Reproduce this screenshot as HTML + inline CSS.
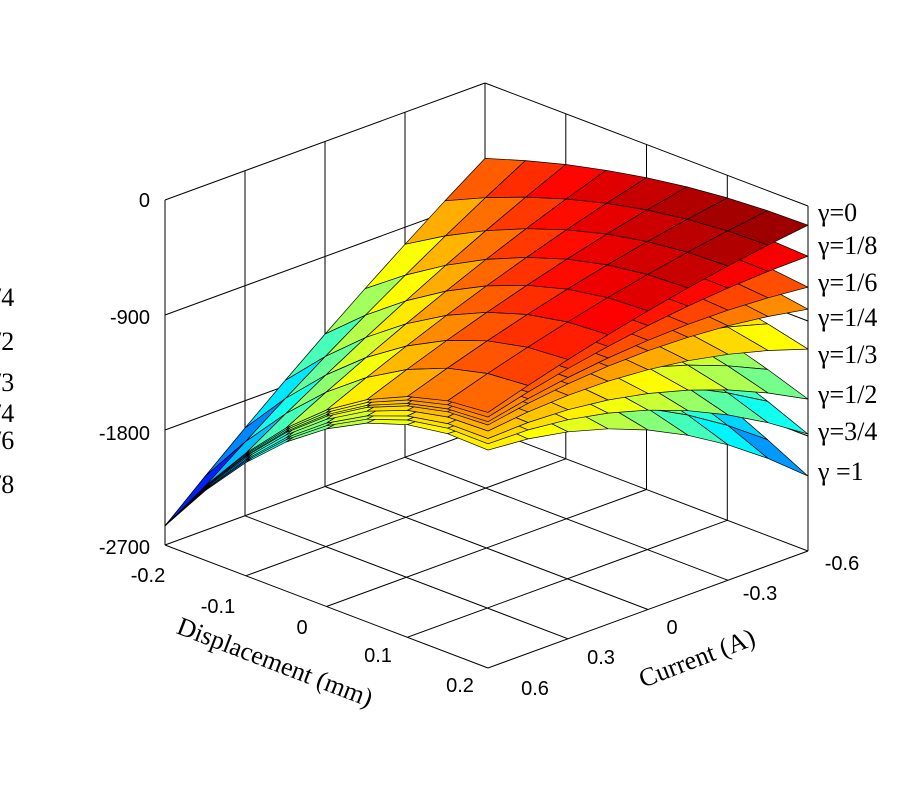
<!DOCTYPE html>
<html><head><meta charset="utf-8"><style>
body{margin:0;background:#fff}
svg{display:block}
.t{font-family:"Liberation Sans",sans-serif;font-size:20px;fill:#000}
.s{font-family:"Liberation Serif","DejaVu Serif",serif;font-size:26px;fill:#000}
</style></head><body>
<svg id="c" width="900" height="800" xmlns="http://www.w3.org/2000/svg">
<g id="g"></g>
<text class="t" x="150" y="207" text-anchor="end">0</text>
<text class="t" x="150" y="324" text-anchor="end">-900</text>
<text class="t" x="150" y="440" text-anchor="end">-1800</text>
<text class="t" x="150" y="554" text-anchor="end">-2700</text>
<text class="t" x="148" y="582" text-anchor="middle">-0.2</text>
<text class="t" x="218" y="613" text-anchor="middle">-0.1</text>
<text class="t" x="302" y="634" text-anchor="middle">0</text>
<text class="t" x="378" y="662" text-anchor="middle">0.1</text>
<text class="t" x="460" y="692" text-anchor="middle">0.2</text>
<text class="t" x="535" y="695" text-anchor="middle">0.6</text>
<text class="t" x="601" y="664" text-anchor="middle">0.3</text>
<text class="t" x="672" y="634" text-anchor="middle">0</text>
<text class="t" x="760" y="600" text-anchor="middle">-0.3</text>
<text class="t" x="842" y="570" text-anchor="middle">-0.6</text>
<text class="s" transform="translate(272,670) rotate(21)" text-anchor="middle">Displacement (mm)</text>
<text class="s" transform="translate(700,666) rotate(-21)" text-anchor="middle">Current (A)</text>
<text class="s" x="818" y="221">γ=0</text>
<text class="s" x="818" y="254">γ=1/8</text>
<text class="s" x="818" y="291">γ=1/6</text>
<text class="s" x="818" y="326">γ=1/4</text>
<text class="s" x="818" y="363">γ=1/3</text>
<text class="s" x="818" y="403">γ=1/2</text>
<text class="s" x="818" y="440">γ=3/4</text>
<text class="s" x="818" y="480">γ =1</text>
<text class="s" x="-6" y="306">/4</text>
<text class="s" x="-6" y="350">/2</text>
<text class="s" x="-6" y="391">/3</text>
<text class="s" x="-6" y="422">/4</text>
<text class="s" x="-6" y="449">/6</text>
<text class="s" x="-6" y="493">/8</text>
</svg>
<script>
(function(){
var L=[165,545],F=[488,668],R=[808,551];
var ZP=345/2700;
function P(u,v,z){var x=L[0]+u*(F[0]-L[0])+v*(R[0]-F[0]);var y=L[1]+u*(F[1]-L[1])+v*(R[1]-F[1]);y-=(z+2700)*ZP;return [x,y];}
var out=[];
function line(a,b){out.push('<line x1="'+a[0].toFixed(1)+'" y1="'+a[1].toFixed(1)+'" x2="'+b[0].toFixed(1)+'" y2="'+b[1].toFixed(1)+'" stroke="#000" stroke-width="1"/>');}
var i;
for(i=0;i<=4;i++){var t=i/4;line(P(t,0,-2700),P(t,1,-2700));line(P(0,t,-2700),P(1,t,-2700));}
for(i=0;i<=4;i++){var t=i/4;line(P(0,t,-2700),P(0,t,0));}
[-1800,-900,0].forEach(function(z){line(P(0,0,z),P(0,1,z));line(P(0,1,z),P(1,1,z));});
for(i=1;i<=4;i++){var t=i/4;line(P(t,1,-2700),P(t,1,0));}
function jet(x){x=Math.max(0,Math.min(1,x));function c(v){return Math.round(255*Math.max(0,Math.min(1,v)));}
var r=1.5-Math.abs(4*x-3),g=1.5-Math.abs(4*x-2),b=1.5-Math.abs(4*x-1);return 'rgb('+c(r)+','+c(g)+','+c(b)+')';}
var f=[251,209,174,124,84,62,31,0].map(function(p){return p/251;});
function Z(u,v,fg){var e0=-700-1850*(1-u)*(1-u),e1=-150-440*(1-u)*(1-u);
var A=e0*(1-v)+e1*v+250*v*(1-v);
var B=0.15*u*(1-v)+v*(0.3+0.7*u)*(0.6+0.4*v);
return A-fg*1964*B;}
var N=8;
f.forEach(function(fg){
 var q=[];
 for(var a=0;a<N;a++)for(var b=0;b<N;b++){
  var u0=a/N,u1=(a+1)/N,v0=b/N,v1=(b+1)/N;
  var zs=[Z(u0,v0,fg),Z(u1,v0,fg),Z(u1,v1,fg),Z(u0,v1,fg)];
  var pts=[P(u0,v0,zs[0]),P(u1,v0,zs[1]),P(u1,v1,zs[2]),P(u0,v1,zs[3])];
  var zm=(zs[0]+zs[1]+zs[2]+zs[3])/4;
  q.push({d:(u0+u1)/2-(v0+v1)/2,p:pts,c:jet((zm+2600)/2500)});
 }
 q.sort(function(x,y){return x.d-y.d;});
 q.forEach(function(o){out.push('<polygon points="'+o.p.map(function(p){return p[0].toFixed(1)+','+p[1].toFixed(1);}).join(' ')+'" fill="'+o.c+'" stroke="#000" stroke-width="0.7" stroke-linejoin="round"/>');});
});
document.getElementById('g').innerHTML=out.join('');
})();
</script>
</body></html>
